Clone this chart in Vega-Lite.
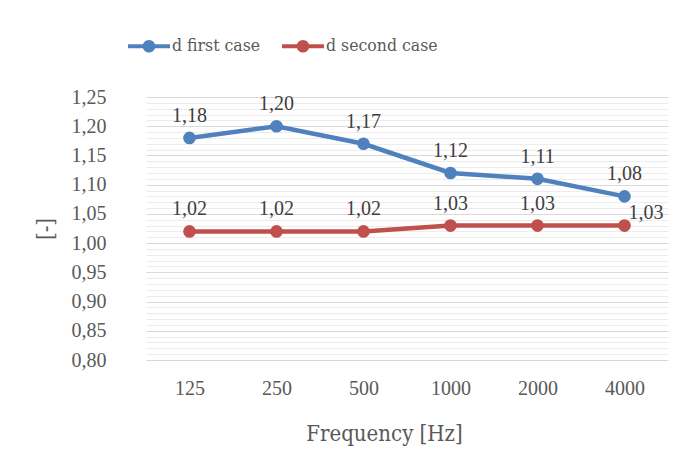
{
  "$schema": "https://vega.github.io/schema/vega-lite/v6.json",
  "autosize": "none",
  "width": 522,
  "height": 263,
  "padding": {"left": 146, "top": 97, "right": 16, "bottom": 106},
  "background": "white",
  "config": {
    "locale": {"number": {"decimal": ",", "thousands": ".", "grouping": [3], "currency": ["", ""]}},
    "font": "DejaVu Serif Condensed",
    "view": {"stroke": null}
  },
  "data": {
    "values": [
      {"series": "d first case", "freq": "125", "value": 1.18},
      {"series": "d first case", "freq": "250", "value": 1.20},
      {"series": "d first case", "freq": "500", "value": 1.17},
      {"series": "d first case", "freq": "1000", "value": 1.12},
      {"series": "d first case", "freq": "2000", "value": 1.11},
      {"series": "d first case", "freq": "4000", "value": 1.08},
      {"series": "d second case", "freq": "125", "value": 1.02},
      {"series": "d second case", "freq": "250", "value": 1.02},
      {"series": "d second case", "freq": "500", "value": 1.02},
      {"series": "d second case", "freq": "1000", "value": 1.03},
      {"series": "d second case", "freq": "2000", "value": 1.03},
      {"series": "d second case", "freq": "4000", "value": 1.03}
    ]
  },
  "encoding": {
    "x": {
      "field": "freq",
      "type": "nominal",
      "sort": ["125", "250", "500", "1000", "2000", "4000"],
      "scale": {"paddingInner": 0, "paddingOuter": 0},
      "axis": {
        "title": "Frequency [Hz]",
        "labelAngle": 0,
        "labelFont": "Liberation Serif",
        "labelFontSize": 20,
        "labelColor": "#595959",
        "labelPadding": 18,
        "ticks": false,
        "domain": false,
        "grid": false,
        "titleFont": "DejaVu Serif Condensed",
        "titleFontSize": 22,
        "titleFontWeight": "normal",
        "titleColor": "#595959",
        "titlePadding": 25,
        "titleX": 238
      }
    },
    "y": {
      "field": "value",
      "type": "quantitative",
      "scale": {"domain": [0.8, 1.25], "nice": false, "zero": false},
      "axis": {
        "title": "[-]",
        "values": [0.80, 0.81, 0.82, 0.83, 0.84, 0.85, 0.86, 0.87, 0.88, 0.89, 0.90, 0.91, 0.92, 0.93, 0.94, 0.95, 0.96, 0.97, 0.98, 0.99, 1.00, 1.01, 1.02, 1.03, 1.04, 1.05, 1.06, 1.07, 1.08, 1.09, 1.10, 1.11, 1.12, 1.13, 1.14, 1.15, 1.16, 1.17, 1.18, 1.19, 1.20, 1.21, 1.22, 1.23, 1.24, 1.25],
        "labelExpr": "round(datum.value * 100) % 5 === 0 ? format(datum.value, '.2f') : ''",
        "labelFont": "Liberation Serif",
        "labelFontSize": 20,
        "labelColor": "#595959",
        "labelPadding": 40,
        "ticks": false,
        "domain": false,
        "grid": true,
        "gridColor": {"condition": {"test": "round(datum.value * 100) % 5 === 0", "value": "#d9d9d9"}, "value": "#ececec"},
        "gridWidth": 1.2,
        "titleFont": "DejaVu Serif Condensed",
        "titleFontSize": 22,
        "titleFontWeight": "normal",
        "titleColor": "#595959",
        "titlePadding": 14
      }
    }
  },
  "layer": [
    {
      "mark": {"type": "line", "strokeWidth": 4.5, "point": {"size": 160, "filled": true, "opacity": 1}},
      "encoding": {
        "color": {
          "field": "series",
          "type": "nominal",
          "scale": {"domain": ["d first case", "d second case"], "range": ["#4f81bd", "#c0504d"]},
          "legend": {
            "title": null,
            "orient": "none",
            "direction": "horizontal",
            "legendX": -18,
            "legendY": -72,
            "padding": 0,
            "symbolType": "M-1,-0.1H1V0.1H-1Z M0.3,0A0.3,0.3 0 1,1 -0.3,0A0.3,0.3 0 1,1 0.3,0Z",
            "symbolSize": 1764,
            "symbolStrokeWidth": 0,
            "labelFont": "DejaVu Serif Condensed",
            "labelFontSize": 17.5,
            "labelColor": "#595959",
            "labelOffset": 2,
            "columnPadding": 21,
            "encode": {"symbols": {"update": {"fill": {"scale": "color", "field": "value"}, "stroke": {"value": "transparent"}}}}
          }
        }
      }
    },
    {
      "transform": [{"filter": "!(datum.series === 'd second case' && datum.freq === '4000')"}],
      "mark": {"type": "text", "font": "Liberation Serif", "baseline": "bottom", "dy": -12, "fontSize": 20, "color": "#404040"},
      "encoding": {"text": {"field": "value", "type": "quantitative", "format": ".2f"}}
    },
    {
      "transform": [{"filter": "datum.series === 'd second case' && datum.freq === '4000'"}],
      "mark": {"type": "text", "font": "Liberation Serif", "align": "left", "baseline": "middle", "dx": 4, "dy": -13, "fontSize": 20, "color": "#404040"},
      "encoding": {"text": {"field": "value", "type": "quantitative", "format": ".2f"}}
    }
  ]
}
